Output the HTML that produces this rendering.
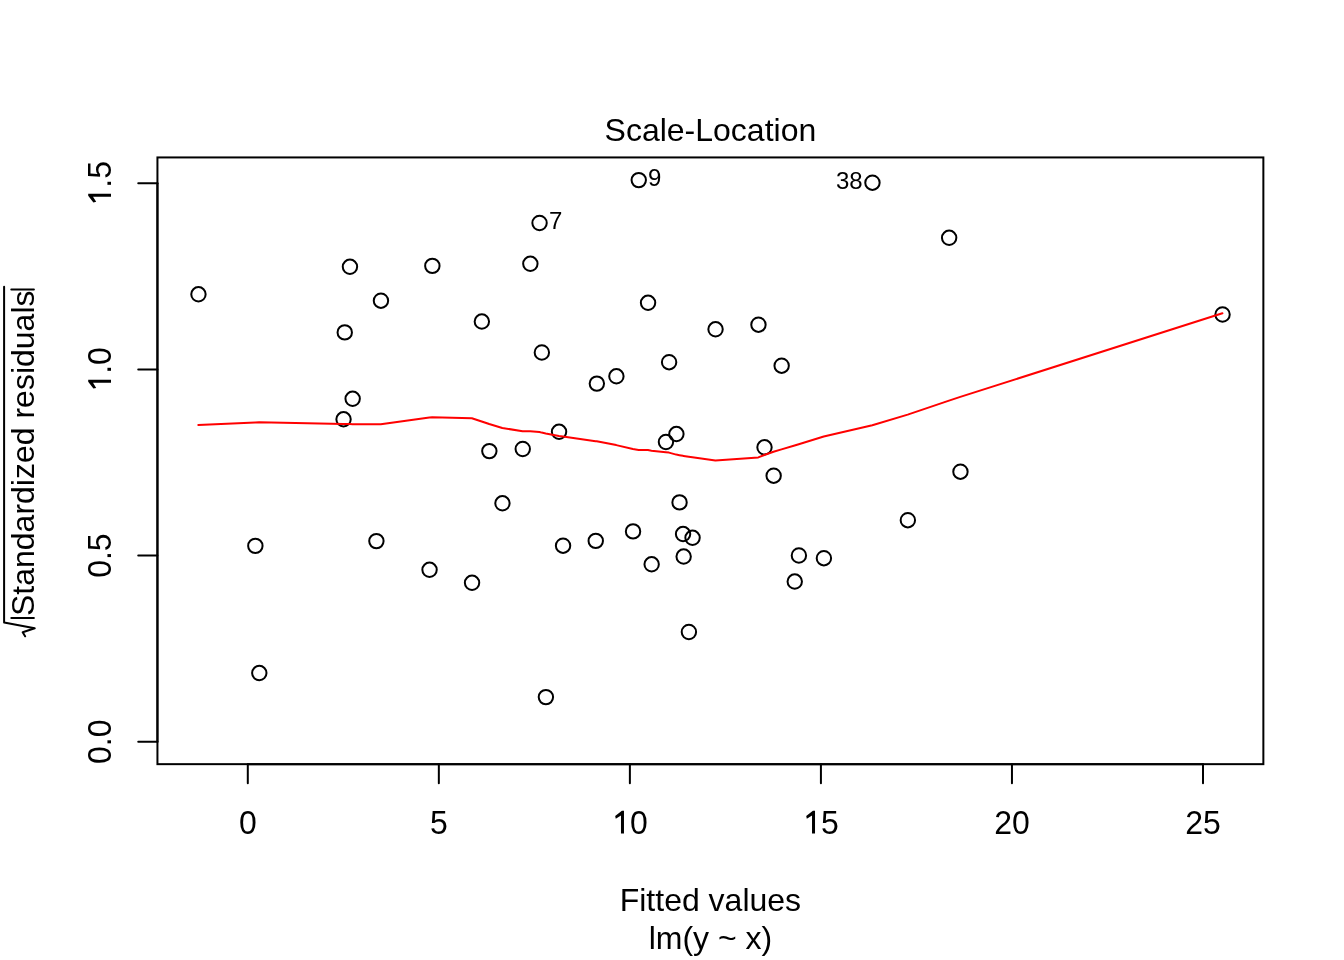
<!DOCTYPE html><html><head><meta charset="utf-8"><style>html,body{margin:0;padding:0;background:#fff;overflow:hidden}svg{display:block;will-change:transform}text{font-family:"Liberation Sans",sans-serif;fill:#000}</style></head><body>
<svg width="1344" height="960" viewBox="0 0 1344 960">
<rect x="0" y="0" width="1344" height="960" fill="#fff"/>
<g fill="none" stroke="#000" stroke-width="2">
<circle cx="198.45" cy="294.30" r="7.2"/>
<circle cx="349.95" cy="266.80" r="7.2"/>
<circle cx="432.35" cy="265.90" r="7.2"/>
<circle cx="380.95" cy="300.70" r="7.2"/>
<circle cx="344.75" cy="332.40" r="7.2"/>
<circle cx="638.75" cy="180.10" r="7.2"/>
<circle cx="539.55" cy="223.00" r="7.2"/>
<circle cx="530.35" cy="263.80" r="7.2"/>
<circle cx="648.05" cy="302.80" r="7.2"/>
<circle cx="481.85" cy="321.55" r="7.2"/>
<circle cx="541.85" cy="352.50" r="7.2"/>
<circle cx="872.45" cy="182.70" r="7.2"/>
<circle cx="949.15" cy="237.80" r="7.2"/>
<circle cx="715.55" cy="329.30" r="7.2"/>
<circle cx="758.45" cy="324.70" r="7.2"/>
<circle cx="1222.55" cy="314.50" r="7.2"/>
<circle cx="352.65" cy="398.80" r="7.2"/>
<circle cx="343.55" cy="419.30" r="7.2"/>
<circle cx="669.11" cy="362.20" r="7.2"/>
<circle cx="616.40" cy="376.30" r="7.2"/>
<circle cx="596.85" cy="383.60" r="7.2"/>
<circle cx="559.05" cy="431.80" r="7.2"/>
<circle cx="676.40" cy="434.05" r="7.2"/>
<circle cx="665.95" cy="442.00" r="7.2"/>
<circle cx="489.35" cy="451.10" r="7.2"/>
<circle cx="522.75" cy="449.00" r="7.2"/>
<circle cx="502.45" cy="503.30" r="7.2"/>
<circle cx="679.55" cy="502.40" r="7.2"/>
<circle cx="633.05" cy="531.40" r="7.2"/>
<circle cx="781.65" cy="365.70" r="7.2"/>
<circle cx="764.50" cy="447.30" r="7.2"/>
<circle cx="773.65" cy="475.70" r="7.2"/>
<circle cx="907.85" cy="520.20" r="7.2"/>
<circle cx="960.45" cy="471.70" r="7.2"/>
<circle cx="255.35" cy="545.90" r="7.2"/>
<circle cx="376.40" cy="541.10" r="7.2"/>
<circle cx="429.55" cy="569.80" r="7.2"/>
<circle cx="259.30" cy="673.05" r="7.2"/>
<circle cx="563.05" cy="545.70" r="7.2"/>
<circle cx="595.75" cy="540.90" r="7.2"/>
<circle cx="683.05" cy="534.05" r="7.2"/>
<circle cx="692.55" cy="537.80" r="7.2"/>
<circle cx="683.65" cy="556.55" r="7.2"/>
<circle cx="651.65" cy="564.30" r="7.2"/>
<circle cx="472.05" cy="582.80" r="7.2"/>
<circle cx="688.90" cy="632.00" r="7.2"/>
<circle cx="545.90" cy="697.10" r="7.2"/>
<circle cx="798.90" cy="555.50" r="7.2"/>
<circle cx="823.90" cy="558.20" r="7.2"/>
<circle cx="794.75" cy="581.55" r="7.2"/>
</g>
<polyline fill="none" stroke="#f00" stroke-width="2" stroke-linejoin="round" stroke-linecap="round" points="198.30,425.00 255.20,422.50 259.15,422.35 343.40,424.10 344.60,424.10 349.80,424.12 352.50,424.13 376.25,424.18 380.80,424.20 429.40,417.50 432.20,417.25 471.90,418.30 481.70,421.50 489.20,424.00 502.30,428.00 522.60,431.15 530.20,431.20 539.40,432.00 541.70,432.60 545.75,433.50 558.90,435.90 562.90,436.40 595.60,441.15 596.70,441.30 616.25,445.10 632.90,449.00 638.60,449.90 647.90,450.05 651.50,450.70 665.80,452.20 668.96,452.60 676.25,454.60 679.40,455.20 682.90,455.80 683.50,455.90 688.75,456.70 692.40,457.20 715.40,460.50 758.30,457.40 764.35,455.05 773.50,451.80 781.50,449.40 794.60,445.50 798.75,444.30 823.75,436.55 872.30,425.30 907.70,414.60 949.00,400.60 960.30,396.90 1222.40,313.30"/>
<g font-size="24">
<text transform="translate(648.1,185.9) scale(1,1.03)">9</text>
<text transform="translate(548.9,228.7) scale(1,1.03)">7</text>
<text transform="translate(862.6999999999999,188.5) scale(1,1.03)" text-anchor="end">38</text>
</g>
<rect x="157.44" y="157.44" width="1105.9199999999998" height="606.72" fill="none" stroke="#000" stroke-width="2"/>
<g stroke="#000" stroke-width="2" stroke-linecap="round" fill="none">
<line x1="247.8" y1="764.16" x2="1203.0" y2="764.16"/>
<line x1="247.80" y1="764.16" x2="247.80" y2="783.36"/>
<line x1="438.84" y1="764.16" x2="438.84" y2="783.36"/>
<line x1="629.88" y1="764.16" x2="629.88" y2="783.36"/>
<line x1="820.92" y1="764.16" x2="820.92" y2="783.36"/>
<line x1="1011.96" y1="764.16" x2="1011.96" y2="783.36"/>
<line x1="1203.00" y1="764.16" x2="1203.00" y2="783.36"/>
<line x1="157.44" y1="741.69" x2="157.44" y2="183.30"/>
<line x1="157.44" y1="741.69" x2="138.24" y2="741.69"/>
<line x1="157.44" y1="555.56" x2="138.24" y2="555.56"/>
<line x1="157.44" y1="369.43" x2="138.24" y2="369.43"/>
<line x1="157.44" y1="183.30" x2="138.24" y2="183.30"/>
</g>
<g font-size="32" text-anchor="middle">
<g transform="translate(238.90,833.6)"><text x="0" y="0" text-anchor="start" transform="scale(1,1.035)">0</text></g>
<g transform="translate(429.94,833.6)"><text x="0" y="0" text-anchor="start" transform="scale(1,1.035)">5</text></g>
<g transform="translate(612.08,833.6)"><path d="M9.8,-22.8 L3.1,-17.6 L3.7,-14.8 L8.9,-18.0 L8.9,0 L11.9,0 L11.9,-22.8 Z" fill="#000"/><text x="17.8" y="0" text-anchor="start" transform="scale(1,1.035)">0</text></g>
<g transform="translate(803.12,833.6)"><path d="M9.8,-22.8 L3.1,-17.6 L3.7,-14.8 L8.9,-18.0 L8.9,0 L11.9,0 L11.9,-22.8 Z" fill="#000"/><text x="17.8" y="0" text-anchor="start" transform="scale(1,1.035)">5</text></g>
<g transform="translate(994.16,833.6)"><text x="0" y="0" text-anchor="start" transform="scale(1,1.035)">20</text></g>
<g transform="translate(1185.20,833.6)"><text x="0" y="0" text-anchor="start" transform="scale(1,1.035)">25</text></g>
<g transform="translate(111,741.69) rotate(-90) translate(-22.24,0)"><text x="0" y="0" text-anchor="start" transform="scale(1,1.035)">0.0</text></g>
<g transform="translate(111,555.56) rotate(-90) translate(-22.24,0)"><text x="0" y="0" text-anchor="start" transform="scale(1,1.035)">0.5</text></g>
<g transform="translate(111,369.43) rotate(-90) translate(-22.24,0)"><path d="M9.8,-22.8 L3.1,-17.6 L3.7,-14.8 L8.9,-18.0 L8.9,0 L11.9,0 L11.9,-22.8 Z" fill="#000"/><text x="17.8" y="0" text-anchor="start" transform="scale(1,1.035)">.0</text></g>
<g transform="translate(111,183.30) rotate(-90) translate(-22.24,0)"><path d="M9.8,-22.8 L3.1,-17.6 L3.7,-14.8 L8.9,-18.0 L8.9,0 L11.9,0 L11.9,-22.8 Z" fill="#000"/><text x="17.8" y="0" text-anchor="start" transform="scale(1,1.035)">.5</text></g>
</g>
<text x="710.4" y="140.8" font-size="32" text-anchor="middle">Scale-Location</text>
<text x="710.4" y="910.6" font-size="32" text-anchor="middle">Fitted values</text>
<text x="710.4" y="948.6" font-size="32" text-anchor="middle">lm(y ~ x)</text>
<text transform="translate(33.8,616) rotate(-90)" x="0" y="0" font-size="32">Standardized residuals</text>
<g stroke="#000" stroke-width="2" fill="none" stroke-linecap="round" stroke-linejoin="round">
<line x1="11.3" y1="617.9" x2="33.9" y2="617.9"/>
<line x1="11.3" y1="289.4" x2="33.9" y2="289.4"/>
<polyline points="25.1,636.3 22.7,632.3 34.7,628.3 4.1,622.5 4.1,286.8"/>
</g>
</svg></body></html>
